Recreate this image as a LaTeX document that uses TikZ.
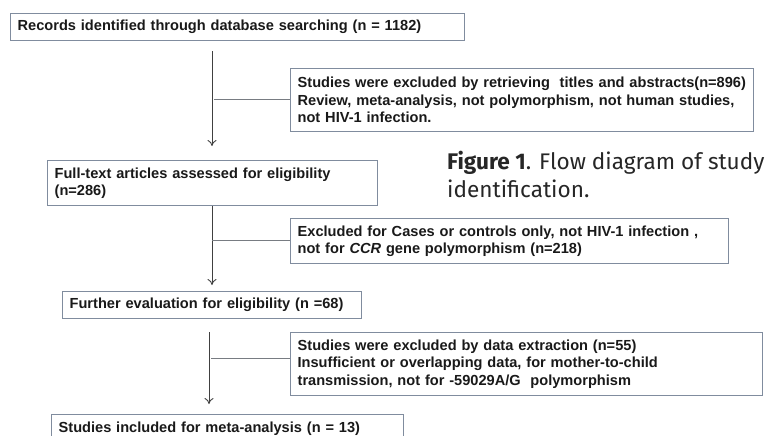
\documentclass[tikz,border=0pt]{standalone}
\usepackage{fontspec}
\setsansfont{Liberation Sans}
\newfontfamily\capfont{Fira Sans}
\usetikzlibrary{arrows.meta}
\definecolor{boxgray}{RGB}{128,140,158}
\definecolor{linegray}{RGB}{120,124,130}

\tikzset{
  box/.style={draw=boxgray, line width=1.3pt, anchor=north west, align=left,
    inner xsep=7pt, inner ysep=0pt, text=black!90,
    font=\sffamily\bfseries\fontsize{14.6}{17.5}\selectfont},
  sideline/.style={draw=linegray, line width=0.9pt},
  flow/.style={draw=black!75, line width=0.9pt, -{To[length=6pt,width=9pt]}}
}

\begin{document}
\begin{tikzpicture}[x=1pt,y=-1pt]
\useasboundingbox (0,0) rectangle (769,436);
\node[box, text width=440pt, minimum height=27pt] (rec) at (10,13)
{Records identified through database searching (n = 1182)};
\node[box, text width=449pt, minimum height=63pt] (ex1) at (290,68)
{Studies were excluded by retrieving\ \ titles and abstracts(n=896)\\
Review, meta-analysis, not polymorphism, not human studies,\\
not HIV-1 infection.};
\node[box, text width=316pt, minimum height=45pt] (full) at (47,160)
{Full-text articles assessed for eligibility\\(n=286)};
\node[box, text width=424pt, minimum height=45pt] (ex2) at (290,218)
{Excluded for Cases or controls only, not HIV-1 infection ,\\
not for \textit{CCR} gene polymorphism (n=218)};
\node[box, text width=285pt, minimum height=27pt] (further) at (62,291)
{Further evaluation for eligibility (n =68)};
\node[box, text width=458pt, minimum height=63pt] (ex3) at (290,332)
{Studies were excluded by data extraction (n=55)\\
Insufficient or overlapping data, for mother-to-child\\
transmission, not for -59029A/G\ \ polymorphism};
\node[box, text width=338pt, minimum height=40pt, text depth=14pt] (incl) at (51,414)
{Studies included for meta-analysis (n = 13)};

\node[anchor=north west, align=left, inner sep=0pt, text=black!85,
  font=\capfont\fontsize{22.6}{28}\selectfont] (cap) at (447,151)
{\textbf{Figure 1}. Flow diagram of study\\identification.};

\coordinate (s1) at (212,99);
\coordinate (s2) at (212,240);
\coordinate (s3) at (209,358);

\draw[flow] ([yshift=-10pt]rec.south -| s1) -- ([yshift=14pt]full.north -| s1);
\draw[sideline] ([xshift=2pt]s1) -- (s1 -| ex1.west);
\draw[flow] (full.south -| s2) -- ([yshift=6pt]further.north -| s2);
\draw[sideline] (s2) -- (s2 -| ex2.west);
\draw[flow] ([yshift=-13pt]further.south -| s3) -- ([yshift=10pt]incl.north -| s3);
\draw[sideline] ([xshift=2pt]s3) -- (s3 -| ex3.west);
\end{tikzpicture}
\end{document}
